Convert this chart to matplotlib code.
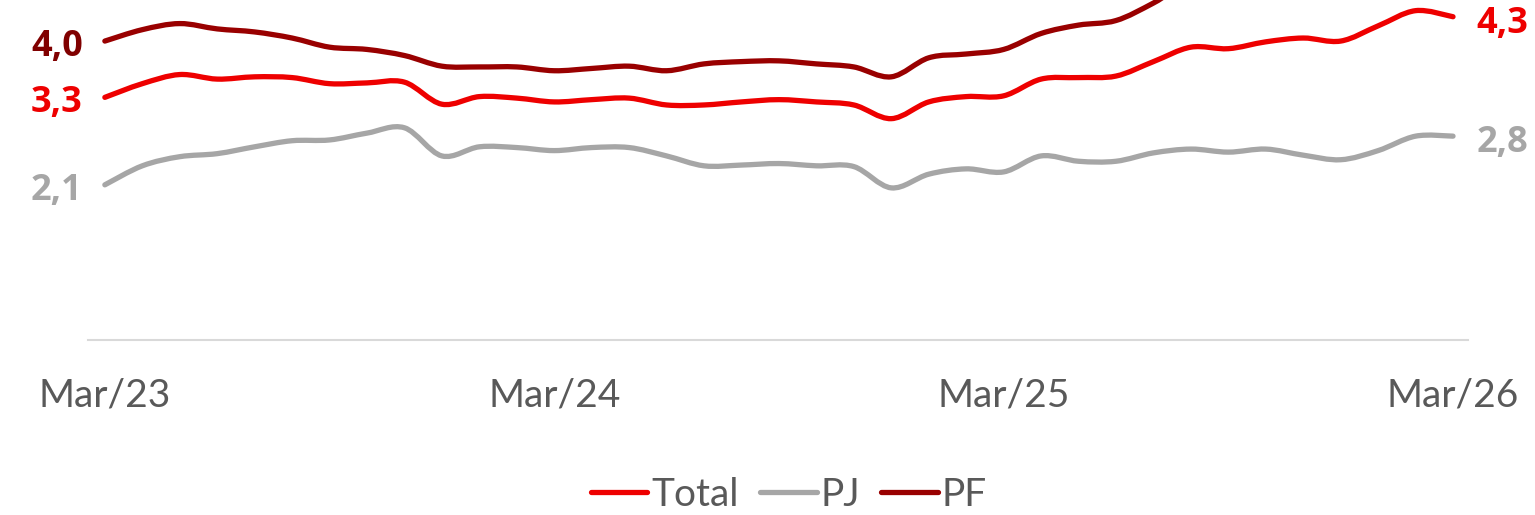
import matplotlib.pyplot as plt
import numpy as np
from matplotlib.path import Path
from matplotlib.patches import PathPatch
from matplotlib.lines import Line2D

plt.rcParams['font.family'] = ['Lato', 'DejaVu Sans']
LABEL_FONT = ['Open Sans', 'DejaVu Sans']

# monthly series, Mar/23 .. Mar/26
months = 37
tick_pos = [0, 12, 24, 36]
tick_labels = ['Mar/23', 'Mar/24', 'Mar/25', 'Mar/26']

total = [3.27, 3.45, 3.57, 3.51, 3.54, 3.53, 3.45, 3.46, 3.47, 3.18, 3.28, 3.26,
         3.21, 3.24, 3.26, 3.17, 3.17, 3.21, 3.24, 3.21, 3.17, 2.99, 3.21, 3.28,
         3.29, 3.51, 3.53, 3.55, 3.74, 3.93, 3.91, 4.00, 4.05, 4.01, 4.21, 4.41, 4.33]
pj = [2.12, 2.37, 2.49, 2.53, 2.62, 2.70, 2.71, 2.80, 2.87, 2.50, 2.62, 2.61,
      2.57, 2.61, 2.61, 2.50, 2.37, 2.38, 2.40, 2.37, 2.36, 2.08, 2.26, 2.33,
      2.29, 2.50, 2.43, 2.43, 2.54, 2.59, 2.55, 2.59, 2.51, 2.45, 2.57, 2.76, 2.76]
pf = [4.01, 4.16, 4.24, 4.17, 4.13, 4.05, 3.93, 3.90, 3.82, 3.68, 3.67, 3.67,
      3.62, 3.65, 3.68, 3.62, 3.71, 3.74, 3.75, 3.71, 3.67, 3.54, 3.79, 3.84,
      3.90, 4.11, 4.22, 4.28, 4.51, 4.79, 4.78, 4.90, 5.03, 5.01, 5.26, 5.46, 5.33]

RED = '#EE0000'
GRAY = '#A6A6A6'
DARK = '#990000'


def smooth_path(x, y):
    # Excel-style smoothed line: cubic Bezier segments through every point
    x = np.asarray(x, float)
    y = np.asarray(y, float)
    p = np.column_stack([x, y])
    verts = [p[0]]
    codes = [Path.MOVETO]
    n = len(p)
    for i in range(n - 1):
        p0 = p[i - 1] if i > 0 else p[i]
        p3 = p[i + 2] if i + 2 < n else p[i + 1]
        c1 = p[i] + (p[i + 1] - p0) / 6
        c2 = p[i + 1] - (p3 - p[i]) / 6
        verts += [c1, c2, p[i + 1]]
        codes += [Path.CURVE4] * 3
    return Path(verts, codes)


fig = plt.figure(figsize=(15.35, 5.15), dpi=100)
ax = fig.add_axes([88 / 1535, 1 - 340 / 515, 1380 / 1535, 340 / 515])

x = np.arange(months)
series = [('Total', total, RED, RED), ('PJ', pj, GRAY, GRAY), ('PF', pf, DARK, '#800000')]
for name, vals, col, lab_col in series:
    patch = PathPatch(smooth_path(x, vals), facecolor='none', edgecolor=col,
                      lw=3.8, capstyle='round', joinstyle='round')
    ax.add_patch(patch)
    ax.annotate(f'{vals[0]:.1f}'.replace('.', ','), (x[0], vals[0]), xytext=(-16, -1),
                textcoords='offset points', ha='right', va='center_baseline',
                fontsize=26, fontweight='bold', color=lab_col, family=LABEL_FONT)

for vals, col in [(total, RED), (pj, GRAY)]:
    ax.annotate(f'{vals[-1]:.1f}'.replace('.', ','), (x[-1], vals[-1]), xytext=(17, -2),
                textcoords='offset points', ha='left', va='center_baseline',
                fontsize=26, fontweight='bold', color=col, family=LABEL_FONT,
                annotation_clip=False)

ax.set_xlim(-0.45, 36.4)
ax.set_ylim(0.08, 4.55)
ax.set_xticks(tick_pos, tick_labels)
ax.set_yticks([])
ax.tick_params(axis='x', length=0, pad=27, labelsize=28, labelcolor='#595959')
for s in ['top', 'left', 'right']:
    ax.spines[s].set_visible(False)
ax.spines['bottom'].set_color('#D9D9D9')
ax.spines['bottom'].set_linewidth(1.5)

handles = [Line2D([], [], color=c, lw=3.8, solid_capstyle='round') for _, _, c, _ in series]
fig.legend(handles, [s[0] for s in series], loc='center', bbox_to_anchor=(789 / 1535, 1 - 495 / 515),
           ncol=3, frameon=False, fontsize=28, handlelength=1.45, handletextpad=0.1,
           columnspacing=0.55, labelcolor='#595959', borderaxespad=0, borderpad=0)

fig.savefig('out.png', dpi=100)
